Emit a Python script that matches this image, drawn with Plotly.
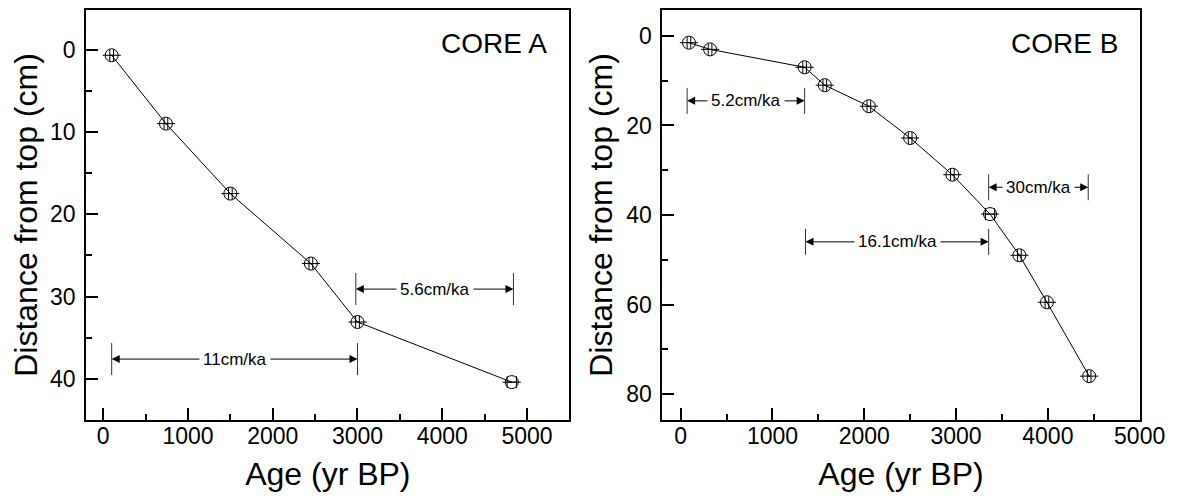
import plotly.graph_objects as go
from plotly.subplots import make_subplots

# ---------------- data ----------------
age_a = [100, 740, 1500, 2450, 3000, 4820]
depth_a = [0.7, 9.0, 17.5, 26.0, 33.1, 40.4]
age_err_a = [22, 22, 22, 22, 22, 55]

age_b = [90, 320, 1350, 1570, 2050, 2500, 2960, 3370, 3690, 3990, 4450]
depth_b = [1.5, 3.0, 7.0, 11.0, 15.7, 22.8, 31.0, 39.8, 49.0, 59.5, 76.0]
age_err_b = [20, 20, 20, 20, 20, 20, 20, 50, 20, 20, 20]

rate_a_from = [100, 2980]
rate_a_to = [3000, 4840]
rate_a_depth = [37.6, 29.1]
rate_a_text = ["11cm/ka", "5.6cm/ka"]

rate_b_from = [70, 1360, 3355]
rate_b_to = [1350, 3355, 4440]
rate_b_depth = [14.5, 46.0, 33.8]
rate_b_text = ["5.2cm/ka", "16.1cm/ka", "30cm/ka"]

core_labels = ["CORE A", "CORE B"]
x_title = "Age (yr BP)"
y_title = "Distance from top (cm)"

# ---------------- figure ----------------
FONT = "Arial, 'Liberation Sans', sans-serif"
W, H = 1186, 503
TOP_PX, BOT_PX = 2, 412

fig = make_subplots(rows=1, cols=2)


def add_core(ages, depths, errs, col):
    fig.add_trace(go.Scatter(
        x=ages, y=depths, mode="lines+markers",
        line=dict(color="black", width=1),
        marker=dict(symbol="circle-open", size=13, color="black",
                    line=dict(width=1, color="black")),
        error_x=dict(type="data", array=errs, visible=True, color="black",
                     thickness=1, width=6),
        hoverinfo="x+y",
    ), row=1, col=col)
    fig.add_trace(go.Scatter(
        x=ages, y=depths, mode="markers",
        marker=dict(symbol="line-ew-open", size=13, color="black",
                    line=dict(width=1, color="black")),
        hoverinfo="skip",
    ), row=1, col=col)


add_core(age_a, depth_a, age_err_a, 1)
add_core(age_b, depth_b, age_err_b, 2)


def add_rates(starts, ends, depths, texts, xref, yref, half_px):
    for x0, x1, d, t in zip(starts, ends, depths, texts):
        for xe in (x0, x1):
            fig.add_shape(type="line", xref=xref, yref=yref,
                          x0=xe, x1=xe, ysizemode="pixel", yanchor=d,
                          y0=-half_px, y1=half_px,
                          line=dict(color="#333333", width=1))
        mid = (x0 + x1) / 2
        for xe in (x0, x1):
            fig.add_annotation(x=xe, y=d, ax=mid, ay=d, xref=xref, yref=yref,
                               axref=xref, ayref=yref, text="", showarrow=True,
                               arrowhead=2, arrowsize=1.6, arrowwidth=1,
                               arrowcolor="black", standoff=0, startstandoff=0)
    for x0, x1, d, t in zip(starts, ends, depths, texts):
        mid = (x0 + x1) / 2
        fig.add_annotation(x=mid, y=d, xref=xref, yref=yref, text=t,
                           showarrow=False, bgcolor="white", borderpad=3,
                           font=dict(family=FONT, size=17, color="black"))


add_rates(rate_a_from, rate_a_to, rate_a_depth, rate_a_text, "x", "y", 16)
add_rates(rate_b_from, rate_b_to, rate_b_depth, rate_b_text, "x2", "y2", 13)

for i, lab in enumerate(core_labels):
    sfx = "" if i == 0 else str(i + 1)
    fig.add_annotation(x=0.958, y=0.918, xref=f"x{sfx} domain", yref=f"y{sfx} domain",
                       text=lab, showarrow=False, xanchor="right", yanchor="middle",
                       font=dict(family=FONT, size=28, color="black"))

y0p = (H - BOT_PX) / H
y1p = (H - TOP_PX) / H

axis_common = dict(
    showline=True, linecolor="black", linewidth=2, mirror=True,
    ticks="inside", tickcolor="black", tickwidth=2, ticklen=12,
    showgrid=False, zeroline=False,
    tickfont=dict(family=FONT, size=23, color="black"),
)
title_font = dict(family=FONT, size=32, color="black")

fig.update_xaxes(**axis_common)
fig.update_yaxes(**axis_common)

fig.update_xaxes(row=1, col=1, domain=[80 / W, 574 / W], range=[-200, 5500],
                 dtick=1000, tick0=0, ticklabelstandoff=-6,
                 minor=dict(ticks="inside", dtick=500, ticklen=6, tickwidth=2, tickcolor="black"),
                 title=dict(text=x_title, font=title_font, standoff=15))
fig.update_xaxes(row=1, col=2, domain=[669 / W, 1157 / W], range=[-200, 5000],
                 dtick=1000, tick0=0, ticklabelstandoff=-6,
                 minor=dict(ticks="inside", dtick=500, ticklen=6, tickwidth=2, tickcolor="black"),
                 title=dict(text=x_title, font=title_font, standoff=15))
fig.update_yaxes(row=1, col=1, domain=[y0p, y1p], range=[45, -4.8],
                 dtick=10, tick0=0, ticklabelstandoff=4,
                 minor=dict(ticks="inside", dtick=5, ticklen=6, tickwidth=2, tickcolor="black"),
                 title=dict(text=y_title, font=title_font, standoff=4))
fig.update_yaxes(row=1, col=2, domain=[y0p, y1p], range=[85.8, -5.8],
                 dtick=20, tick0=0, ticklabelstandoff=4,
                 minor=dict(ticks="inside", dtick=10, ticklen=6, tickwidth=2, tickcolor="black"),
                 title=dict(text=y_title, font=title_font, standoff=4))

fig.update_layout(
    width=W, height=H, margin=dict(l=0, r=0, t=0, b=0),
    plot_bgcolor="white", paper_bgcolor="white", showlegend=False,
    font=dict(family=FONT, color="black"),
)

fig.write_html("out.html")
